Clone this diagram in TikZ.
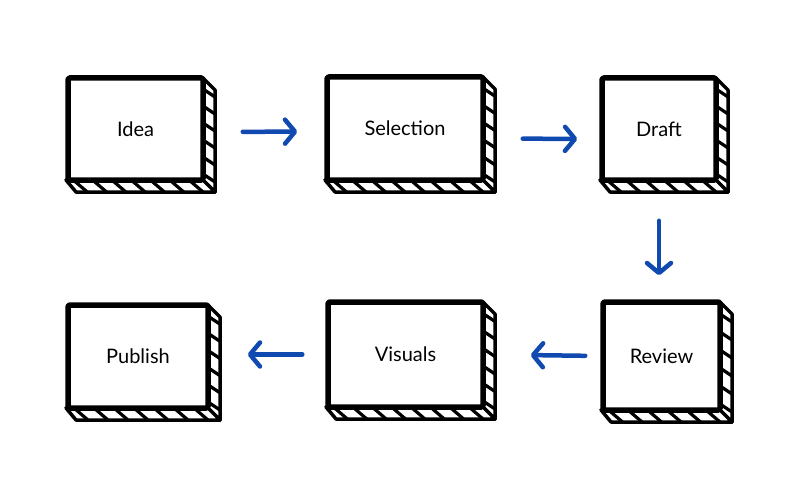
\documentclass[tikz,border=0pt]{standalone}
\usepackage{fontspec}
\setmainfont{Lato}
\usetikzlibrary{arrows.meta}
\definecolor{arrblue}{RGB}{16,74,176}
\tikzset{
  front/.style={draw=black, fill=white, line width=5.5pt, line join=round, rounded corners=1.5pt,
    inner sep=0pt, font=\fontsize{20}{24}\selectfont},
  face/.style={draw=black, fill=white, line width=3.5pt, line join=round},
  stripe/.style={draw=black, line width=3.2pt, line cap=round},
  flow/.style={draw=arrblue, line width=4.5pt, line cap=round,
    -{Straight Barb[length=10pt,width=24pt,round]}},
}
\newcommand\dd{12}
\newcommand\skbox[6]{%
  \pgfmathsetmacro\bw{#4-#2}%
  \pgfmathsetmacro\bh{#5-#3}%
  \pgfmathtruncatemacro\ns{round(\bh/17)}%
  \pgfmathtruncatemacro\nb{round(\bw/20)}%
  \draw[face] (#4,#3) -- (#4+\dd,#3+\dd) -- (#4+\dd,#5+\dd) -- (#4,#5) -- cycle;
  \draw[face] (#2-2,#5) -- (#4,#5) -- (#4+\dd,#5+\dd) -- (#2+\dd-4,#5+\dd) -- cycle;
  \foreach \k in {1,...,\ns}{\pgfmathsetmacro\yy{#3+\k*\bh/\ns}
    \draw[stripe] (#4,\yy-6) -- (#4+\dd,\yy+\dd-10);}
  \foreach \k in {1,...,\nb}{\pgfmathsetmacro\xx{#2+\k*\bw/\nb}
    \draw[stripe] (\xx-14,#5) -- (\xx,#5+\dd);}
  \node[front, minimum width=\bw pt, minimum height=\bh pt] (#1) at ({(#2+#4)/2},{(#3+#5)/2}) {#6};
}
\begin{document}
\begin{tikzpicture}[x=1pt,y=-1pt]
\useasboundingbox[fill=white] (0,0) rectangle (800,500);
\skbox{idea}{68}{78}{203}{180}{Idea}
\skbox{sel}{327}{77}{483}{180}{Selection}
\skbox{draft}{602}{78}{716}{180}{Draft}
\skbox{pub}{68}{305}{208}{408}{Publish}
\skbox{vis}{328}{302}{483}{407}{Visuals}
\skbox{rev}{603}{302}{720}{410}{Review}
\draw[flow, shorten <=37pt, shorten >=27pt] ([yshift=-3pt]idea.east) -- ([yshift=-3pt]sel.west);
\draw[flow, shorten <=37pt, shorten >=22pt] ([yshift=-10pt]sel.east) -- ([yshift=-10pt]draft.west);
\draw[flow, shorten <=38pt, shorten >=24pt] (draft.south) -- (draft.south |- rev.north);
\draw[flow, shorten <=15pt, shorten >=45pt] (rev.west) -- (vis.east);
\draw[flow, shorten <=23pt, shorten >=37pt] (vis.west) -- (vis.west -| pub.east);
\end{tikzpicture}
\end{document}
